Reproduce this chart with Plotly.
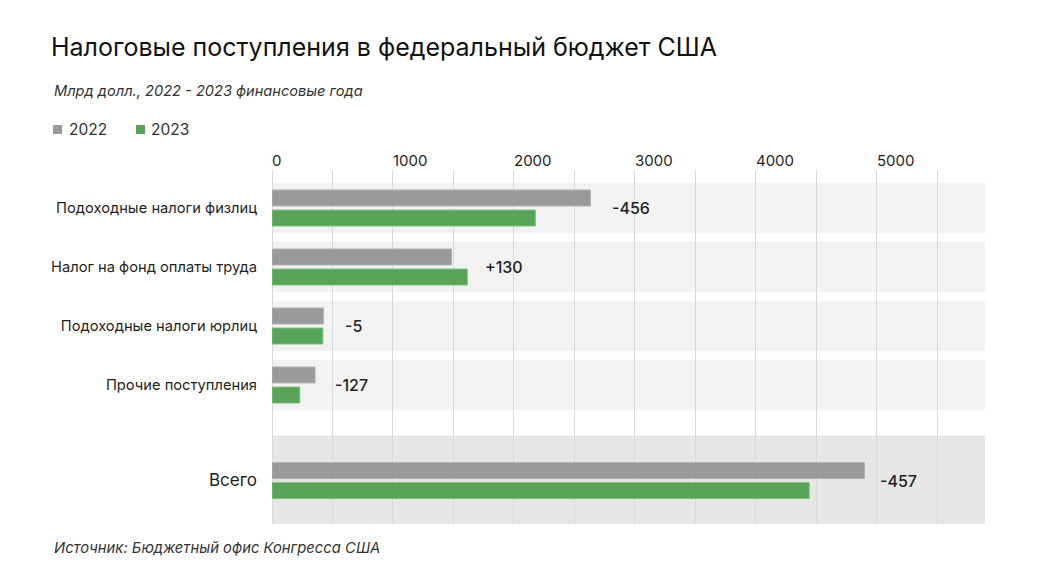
import plotly.graph_objects as go

# ---- data ----
categories = ["Подоходные налоги физлиц", "Налог на фонд оплаты труда",
              "Подоходные налоги юрлиц", "Прочие поступления", "Всего"]
values_2022 = [2632, 1484, 425, 356, 4897]
values_2023 = [2176, 1614, 420, 229, 4440]
change_labels = ["-456", "+130", "-5", "-127", "-457"]
x_tick_values = [0, 1000, 2000, 3000, 4000, 5000]
series_names = ["2022", "2023"]

# ---- layout geometry ----
W, H = 1038, 584
ML, MR, MT, MB = 272, 53, 170, 60
PW, PH = W - ML - MR, H - MT - MB
XMAX = 5893
Y_TOP, Y_BOT = -0.644, 5.356

FONT = "Inter"
DARK = "#1f1f1f"
GRAY = "#9a9a9a"
GREEN = "#58a358"
series_colors = [GRAY, GREEN]

n = len(categories)
positions = [float(i) for i in range(n - 1)] + [n - 1 + 0.62]


def px_x(p):
    return (p - ML) / PW


def px_y(p):
    return (H - MB - p) / PH


bar_w = 0.27
fig = go.Figure()
fig.add_trace(go.Bar(
    y=positions, x=values_2022, orientation="h", name=series_names[0],
    width=bar_w, offset=-0.305,
    marker=dict(color=GRAY, line=dict(color="#b0b0b0", width=1)),
    hoverinfo="x", showlegend=False,
))
fig.add_trace(go.Bar(
    y=positions, x=values_2023, orientation="h", name=series_names[1],
    width=bar_w, offset=0.035,
    marker=dict(color=GREEN, line=dict(color="#7cbf7a", width=1)),
    hoverinfo="x", showlegend=False,
))

shapes = []
for i, pos in enumerate(positions):
    half = 0.43 if i < n - 1 else 0.765
    shapes.append(dict(
        type="rect", xref="x domain", yref="y", x0=0, x1=1,
        y0=pos - half, y1=pos + half, layer="below", line=dict(width=0),
        fillcolor="#f2f2f2" if i < n - 1 else "#e6e6e6",
    ))

annotations = []
label_shifts = [20, 16, 20, 18, 14]
for i, pos in enumerate(positions):
    annotations.append(dict(
        x=max(values_2022[i], values_2023[i]), y=pos, xref="x", yref="y",
        text=change_labels[i], showarrow=False, xanchor="left", yanchor="middle",
        xshift=label_shifts[i], font=dict(family=FONT, size=16, color=DARK, weight=500),
    ))

# manual legend (square + label)
legend_sq_x = [53, 136]
legend_txt_x = [67, 149]
for name, color, sx, tx in zip(series_names, series_colors, legend_sq_x, legend_txt_x):
    shapes.append(dict(
        type="rect", xref="paper", yref="paper",
        x0=px_x(sx), x1=px_x(sx + 9), y0=px_y(134), y1=px_y(125),
        fillcolor=color, line=dict(width=0), layer="above",
    ))
    annotations.append(dict(
        x=px_x(tx), y=px_y(129.5), xref="paper", yref="paper", text=name,
        showarrow=False, xanchor="left", yanchor="middle",
        font=dict(family=FONT, size=15.5, color="#333333"),
    ))

annotations.append(dict(
    x=px_x(52), y=px_y(91), xref="paper", yref="paper",
    text="<i>Млрд долл., 2022 - 2023 финансовые года</i>", showarrow=False,
    xanchor="left", yanchor="middle",
    font=dict(family=FONT, size=14.6, color="#333333"),
))
annotations.append(dict(
    x=px_x(52), y=px_y(548), xref="paper", yref="paper",
    text="<i>Источник: Бюджетный офис Конгресса США</i>", showarrow=False,
    xanchor="left", yanchor="middle",
    font=dict(family=FONT, size=14.8, color="#333333"),
))

ticktext = categories[:-1] + ['<span style="font-size:17px">' + categories[-1] + '</span>']

fig.update_layout(
    width=W, height=H,
    margin=dict(l=ML, r=MR, t=MT, b=MB, pad=0),
    paper_bgcolor="white", plot_bgcolor="white",
    font=dict(family=FONT, color=DARK),
    title=dict(
        text="Налоговые поступления в федеральный бюджет США",
        x=51 / W, xanchor="left", y=1 - 47 / H, yanchor="middle",
        font=dict(family=FONT, size=25, color="#111111"),
    ),
    barmode="overlay",
    showlegend=False,
    xaxis=dict(
        side="top", range=[0, XMAX], tickvals=x_tick_values,
        ticktext=[str(v) for v in x_tick_values],
        ticklabelposition="outside right",
        ticklabelstandoff=0,
        showgrid=True, gridcolor="#d9d9d9", gridwidth=1,
        zeroline=True, zerolinecolor="#d9d9d9", zerolinewidth=1,
        minor=dict(dtick=500, tick0=0, showgrid=True, gridcolor="#d9d9d9", gridwidth=1),
        tickfont=dict(family=FONT, size=15, color=DARK),
        ticks="", showline=False, fixedrange=True,
    ),
    yaxis=dict(
        range=[Y_BOT, Y_TOP], tickvals=positions, ticktext=ticktext,
        showgrid=False, zeroline=False, showline=False, ticks="",
        ticklabelstandoff=14,
        tickfont=dict(family=FONT, size=14.7, color=DARK), fixedrange=True,
    ),
    shapes=shapes,
    annotations=annotations,
)

fig.write_html("out.html", config={"displayModeBar": False})
